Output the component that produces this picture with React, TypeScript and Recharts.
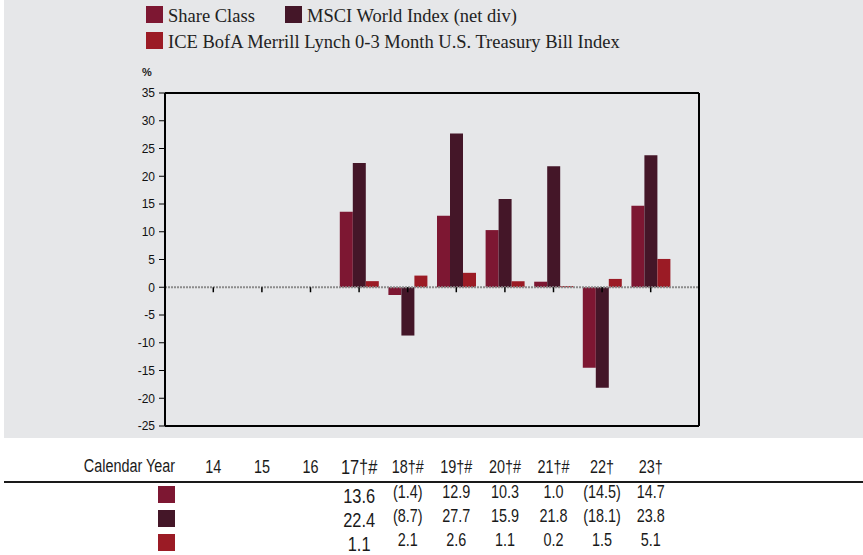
import React from "react";
import { ComposedChart, Bar, XAxis, YAxis, ReferenceLine } from "recharts";

const YEARS = ["14", "15", "16", "17", "18", "19", "20", "21", "22", "23"];
const YEAR_LABELS = ["14", "15", "16", "17†#", "18†#", "19†#", "20†#", "21†#", "22†", "23†"];
const SHARE_CLASS = [null, null, null, 13.6, -1.4, 12.9, 10.3, 1.0, -14.5, 14.7];
const MSCI_WORLD = [null, null, null, 22.4, -8.7, 27.7, 15.9, 21.8, -18.1, 23.8];
const TBILL = [null, null, null, 1.1, 2.1, 2.6, 1.1, 0.2, 1.5, 5.1];
const Y_TICKS = [-25, -20, -15, -10, -5, 0, 5, 10, 15, 20, 25, 30, 35];

const SERIES = [
    { key: "share", name: "Share Class", color: "#7d1732", values: SHARE_CLASS },
    { key: "msci", name: "MSCI World Index (net div)", color: "#441628", values: MSCI_WORLD },
    { key: "tbill", name: "ICE BofA Merrill Lynch 0-3 Month U.S. Treasury Bill Index", color: "#9b1b25", values: TBILL },
];

const data = YEARS.map((year, i) => ({
    year,
    label: YEAR_LABELS[i],
    share: SHARE_CLASS[i],
    msci: MSCI_WORLD[i],
    tbill: TBILL[i],
}));

const TABLE_FONT = "'Liberation Sans', Arial, sans-serif";
const LEGEND_FONT = "'Liberation Serif', 'DejaVu Serif', serif";
const NARROW = 0.8;

function fmt(v: number | null) {
    if (v == null) return "";
    return v < 0 ? `(${Math.abs(v).toFixed(1)})` : v.toFixed(1);
}

// year label + table values drawn under each category
function TableTick(props: any) {
    const { x, y, payload } = props;
    const i = YEARS.indexOf(payload.value);
    const big = i === 3;
    const size = big ? 20.5 : 18;
    const shift = big ? 5 : 0;
    return (
        <g fontFamily={TABLE_FONT} fill="#1a1a1a" textAnchor="middle">
            <text transform={`translate(${x},${y + 47 + (big ? 1 : 0)}) scale(${NARROW},1)`} fontSize={size}>
                {YEAR_LABELS[i]}
            </text>
            {SERIES.map((s, r) => (
                <text
                    key={s.key}
                    transform={`translate(${x},${y + 72 + r * 24 + shift}) scale(${NARROW},1)`}
                    fontSize={size}
                >
                    {fmt(s.values[i])}
                </text>
            ))}
        </g>
    );
}

function LegendItem({ color, label, left, top }: { color: string; label: string; left: number; top: number }) {
    return (
        <div style={{ position: "absolute", left, top, display: "flex", alignItems: "center", whiteSpace: "nowrap" }}>
            <span style={{ width: 17, height: 17, background: color, display: "inline-block", marginRight: 5 }} />
            <span style={{ fontFamily: LEGEND_FONT, fontSize: 18.5, color: "#222", lineHeight: "17px", position: "relative", top: 2 }}>
                {label}
            </span>
        </div>
    );
}

export default function App() {
    return (
        <div style={{ position: "absolute", left: 0, top: 0, width: 863, height: 555, background: "#fff", overflow: "hidden" }}>
            <div style={{ position: "absolute", left: 4, top: 0, width: 859, height: 438, background: "#e6e7e9" }} />
            <LegendItem color={SERIES[0].color} label={SERIES[0].name} left={146} top={6} />
            <LegendItem color={SERIES[1].color} label={SERIES[1].name} left={285} top={6} />
            <LegendItem color={SERIES[2].color} label={SERIES[2].name} left={146} top={32} />
            <div style={{ position: "absolute", left: 142, top: 66, fontFamily: "'Liberation Sans', Arial, sans-serif", fontSize: 11, fontWeight: "bold", color: "#222" }}>
                %
            </div>
            <div style={{ position: "absolute", left: 0, top: 0 }}>
                <ComposedChart
                    width={863}
                    height={555}
                    data={data}
                    margin={{ top: 93, right: 160, left: 125, bottom: 0 }}
                    barSize={13}
                    barGap={0}
                >
                    <XAxis
                        dataKey="year"
                        padding={{ left: 24, right: 24 }}
                        height={129}
                        tickSize={0}
                        tickMargin={0}
                        axisLine={{ stroke: "#000", strokeWidth: 2 }}
                        tickLine={false}
                        tick={<TableTick />}
                        interval={0}
                    />
                    <YAxis
                        domain={[-25, 35]}
                        ticks={Y_TICKS}
                        width={40}
                        tickSize={6}
                        tickMargin={4}
                        interval={0}
                        axisLine={{ stroke: "#000", strokeWidth: 2 }}
                        tickLine={{ stroke: "#000" }}
                        tick={{ fill: "#111", fontSize: 12, fontFamily: "'Liberation Sans', Arial, sans-serif" }}
                    />
                    <YAxis
                        yAxisId="right"
                        orientation="right"
                        domain={[-25, 35]}
                        ticks={Y_TICKS}
                        width={4}
                        tick={false}
                        tickLine={false}
                        axisLine={{ stroke: "#000", strokeWidth: 2 }}
                    />
                    <ReferenceLine y={35} stroke="#000" strokeWidth={2} />
                    <ReferenceLine y={0} stroke="#8c8c8c" strokeWidth={2} strokeDasharray="2 1" />
                    {YEARS.map((yr) => (
                        <ReferenceLine
                            key={yr}
                            segment={[{ x: yr, y: 0 }, { x: yr, y: -0.9 }]}
                            stroke="#000"
                            strokeWidth={1.5}
                        />
                    ))}
                    {SERIES.map((s) => (
                        <Bar key={s.key} dataKey={s.key} name={s.name} fill={s.color} isAnimationActive={false} />
                    ))}
                </ComposedChart>
            </div>
            <div
                style={{
                    position: "absolute", right: 863 - 175, top: 456, whiteSpace: "nowrap",
                    fontFamily: TABLE_FONT, fontSize: 18, color: "#1a1a1a", lineHeight: "20px",
                    transform: "scaleX(0.8)", transformOrigin: "right center",
                }}
            >
                Calendar Year
            </div>
            <div style={{ position: "absolute", left: 4, top: 481, width: 859, height: 2, background: "#1a1a1a" }} />
            {SERIES.map((s, r) => (
                <div key={s.key} style={{ position: "absolute", left: 158, top: 486 + r * 24, width: 17, height: 17, background: s.color }} />
            ))}
        </div>
    );
}
